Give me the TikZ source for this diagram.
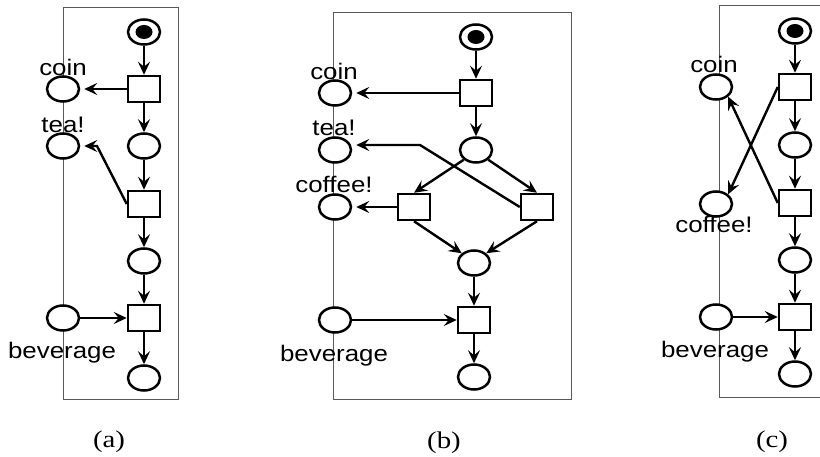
\documentclass[tikz,border=0pt]{standalone}
\usepackage{fontspec}
\setmainfont{Liberation Serif}
\setsansfont{Liberation Sans}
\usetikzlibrary{shapes.geometric, arrows.meta}

\tikzset{
    place/.style={ellipse, draw, fill=white, line width=2.5pt,
        minimum width=32pt, minimum height=25pt, inner sep=0pt},
    token/.style={ellipse, fill, minimum width=17pt, minimum height=14pt, inner sep=0pt},
    trans/.style={rectangle, draw, fill=white, line width=2.5pt,
        minimum width=32pt, minimum height=26pt, inner sep=0pt},
    flow/.style={line width=2.4pt, -{Stealth[length=13pt, width=12pt, inset=5pt]}},
    panel/.style={draw=black!65, line width=1pt},
    lbl/.style={font=\sffamily\fontsize{22.5}{26}\selectfont, xscale=1.15,
        inner sep=0pt, anchor=base},
    sub/.style={font=\rmfamily\fontsize{24}{28}\selectfont, xscale=1.2, inner sep=0pt}
}

\begin{document}
\begin{tikzpicture}[x=1pt, y=-1pt]
    \useasboundingbox (0, 0) rectangle (820, 457);

    % (a) sequential machine
    \draw [panel] (63, 8) rectangle (178, 399);
    \node [place] (sa) at (144, 32) {};
    \node [token] (ka0) at (sa) {};
    \node [trans] (ta1) at (144, 89) {};
    \node [place] (pa2) at (144, 146) {};
    \node [trans] (ta2) at (144, 204) {};
    \node [place] (pa3) at (144, 261) {};
    \node [trans] (ta3) at (144, 318) {};
    \node [place] (pa4) at (144, 378) {};
    \node [place] (coina) at (63, 89) {};
    \node [place] (teaa) at (63, 146) {};
    \node [place] (beva) at (63, 318) {};
    \node [lbl] (lcoina) at (63, 76) {coin};
    \node [lbl] (lteaa) at (63, 133) {tea!};
    \node [lbl] (lbeva) at (62, 359) {beverage};
    \coordinate (ka) at (97, 146);
    \foreach \u/\v in {sa/ta1, ta1/pa2, pa2/ta2, ta2/pa3, pa3/ta3, ta3/pa4}
        \draw [flow] (\u) -- (\v);
    \draw [flow, shorten >=4pt] (ta1) -- (coina);
    \draw [flow, shorten >=4pt] (ta2.west) -- (ka) -- (teaa.east |- ka);
    \draw [flow] (beva) -- (ta3);

    % (b) choice between tea and coffee
    \draw [panel] (333, 13) rectangle (571, 399);
    \node [place] (sb) at (476, 37) {};
    \node [token] (kb0) at (sb) {};
    \node [trans] (tb1) at (476, 93) {};
    \node [place] (pb2) at (476, 150) {};
    \node [trans] (tbl) at (414, 207) {};
    \node [trans] (tbr) at (537, 207) {};
    \node [place] (pb3) at (474, 263) {};
    \node [trans] (tb3) at (474, 320) {};
    \node [place] (pb4) at (474, 377) {};
    \node [place] (coinb) at (335, 93) {};
    \node [place] (teab) at (335, 150) {};
    \node [place] (coffb) at (335, 207) {};
    \node [place] (bevb) at (335, 320) {};
    \node [lbl] (lcoinb) at (334, 80) {coin};
    \node [lbl] (lteab) at (334, 136) {tea!};
    \node [lbl] (lcoffb) at (334, 193) {coffee!};
    \node [lbl] (lbevb) at (334, 362) {beverage};
    \coordinate (kb) at (420, 145);
    \foreach \u/\v in {sb/tb1, tb1/pb2, pb3/tb3, tb3/pb4}
        \draw [flow] (\u) -- (\v);
    \draw [flow] (pb2.south west) -- (tbl.north);
    \draw [flow] (pb2.south east) -- (tbr.north);
    \draw [flow] (tbl.south) -- (pb3.north west);
    \draw [flow] (tbr.south) -- (pb3.north east);
    \draw [flow, shorten >=4pt] (tb1) -- (coinb);
    \draw [flow, shorten >=4pt] (tbl) -- (coffb);
    \draw [flow, shorten >=4pt] (tbr.west) -- (kb) -- (teab.east |- kb);
    \draw [flow] (bevb) -- (tb3);

    % (c) coin and coffee swapped
    \draw [panel] (823, 6) -- (719, 6) -- (719, 397) -- (823, 397);
    \node [place] (sc) at (795, 31) {};
    \node [token] (kc0) at (sc) {};
    \node [trans] (tc1) at (795, 87) {};
    \node [place] (pc2) at (795, 145) {};
    \node [trans] (tc2) at (795, 203) {};
    \node [place] (pc3) at (795, 260) {};
    \node [trans] (tc3) at (795, 317) {};
    \node [place] (pc4) at (795, 374) {};
    \node [place] (coinc) at (716, 87) {};
    \node [place] (coffc) at (716, 204) {};
    \node [place] (bevc) at (716, 317) {};
    \node [lbl] (lcoinc) at (714, 73) {coin};
    \node [lbl] (lcoffc) at (714, 233) {coffee!};
    \node [lbl] (lbevc) at (715, 357) {beverage};
    \foreach \u/\v in {sc/tc1, tc1/pc2, pc2/tc2, tc2/pc3, pc3/tc3, tc3/pc4}
        \draw [flow] (\u) -- (\v);
    \draw [flow] (tc1.west) -- (coffc.north east);
    \draw [flow] (tc2.west) -- (coinc.south east);
    \draw [flow] (bevc) -- (tc3);

    % captions
    \node [sub] (capa) at (109, 442) {(a)};
    \node [sub] (capb) at (444, 443) {(b)};
    \node [sub] (capc) at (772, 442) {(c)};
\end{tikzpicture}
\end{document}
